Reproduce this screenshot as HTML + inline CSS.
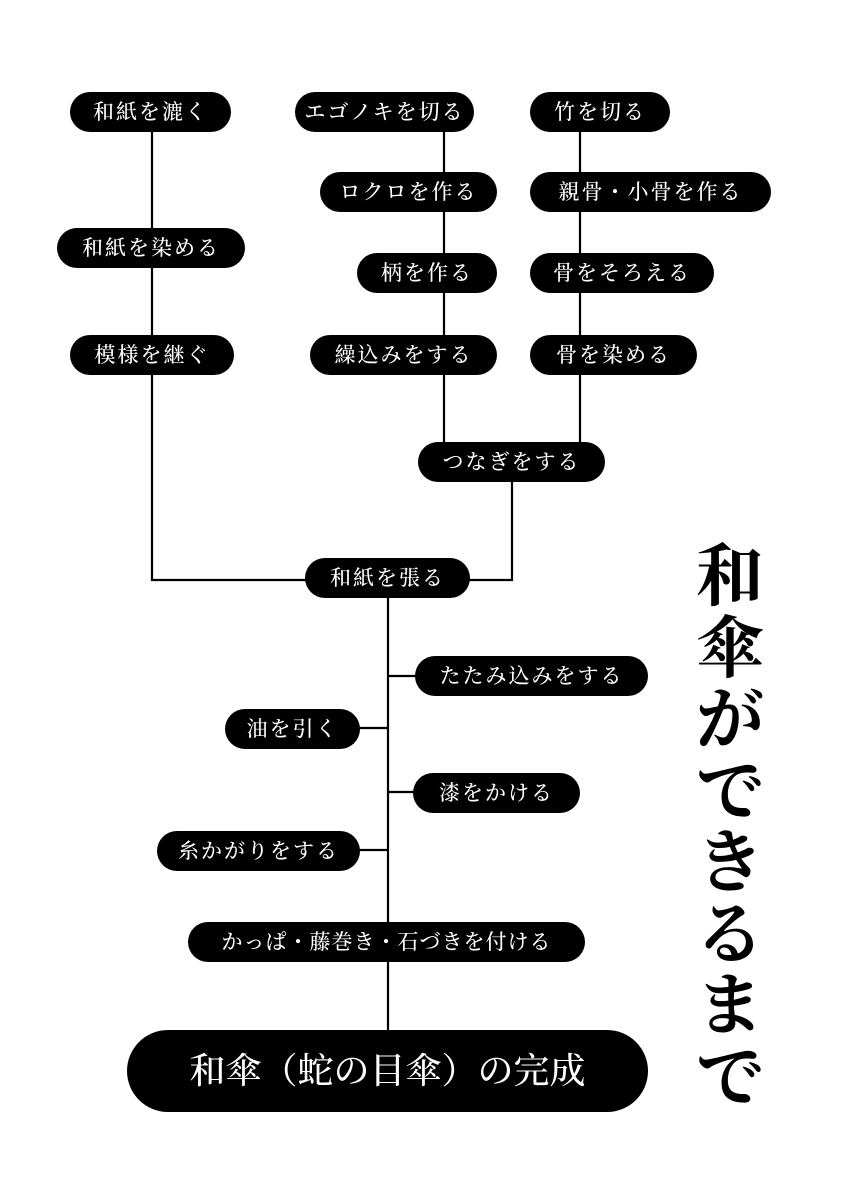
<!DOCTYPE html>
<html><head><meta charset="utf-8"><style>
body{margin:0;width:842px;height:1191px;background:#fff;position:relative;overflow:hidden;font-family:"Liberation Serif","Noto Serif CJK SC",serif}
.n{position:absolute;background:#000;color:#fff;border-radius:20px;height:40px;line-height:40px;text-align:center;font-size:21px;letter-spacing:2px;white-space:nowrap;font-weight:500}
svg{position:absolute;left:0;top:0}
.t{position:absolute;left:690px;top:542px;width:80px;font-size:68px;line-height:71.5px;text-align:center;color:#000;font-weight:bold}
</style></head><body>
<svg width="842" height="1191"><g stroke="#000" stroke-width="2.2" fill="none">
<polyline points="152,112 152,580 320,580"/>
<line x1="444" y1="112" x2="444" y2="462"/>
<line x1="580" y1="112" x2="580" y2="462"/>
<polyline points="512,462 512,580 460,580"/>
<line x1="388" y1="580" x2="388" y2="1060"/>
<line x1="388" y1="676" x2="420" y2="676"/>
<line x1="355" y1="728" x2="388" y2="728"/>
<line x1="388" y1="792" x2="420" y2="792"/>
<line x1="355" y1="850" x2="388" y2="850"/>
</g></svg>
<div class="n" style="left:70px;top:92px;width:161px">和紙を漉く</div>
<div class="n" style="left:295px;top:92px;width:179px">エゴノキを切る</div>
<div class="n" style="left:530px;top:92px;width:140px">竹を切る</div>
<div class="n" style="left:320px;top:172px;width:177px">ロクロを作る</div>
<div class="n" style="left:530px;top:172px;width:241px">親骨・小骨を作る</div>
<div class="n" style="left:57px;top:228px;width:188px">和紙を染める</div>
<div class="n" style="left:357px;top:253px;width:140px">柄を作る</div>
<div class="n" style="left:530px;top:253px;width:184px">骨をそろえる</div>
<div class="n" style="left:70px;top:335px;width:164px">模様を継ぐ</div>
<div class="n" style="left:310px;top:335px;width:187px">繰込みをする</div>
<div class="n" style="left:530px;top:335px;width:167px">骨を染める</div>
<div class="n" style="left:418px;top:442px;width:187px">つなぎをする</div>
<div class="n" style="left:305px;top:558px;width:165px">和紙を張る</div>
<div class="n" style="left:415px;top:656px;width:233px">たたみ込みをする</div>
<div class="n" style="left:225px;top:709px;width:135px">油を引く</div>
<div class="n" style="left:413px;top:773px;width:167px">漆をかける</div>
<div class="n" style="left:157px;top:831px;width:203px">糸かがりをする</div>
<div class="n" style="left:188px;top:922px;width:397px;letter-spacing:1px">かっぱ・藤巻き・石づきを付ける</div>
<div class="n" style="left:127px;top:1030px;width:521px;height:82px;line-height:82px;border-radius:41px;font-size:36px;letter-spacing:0">和傘（蛇の目傘）の完成</div>
<div class="t">和<br>傘<br>が<br>で<br>き<br>る<br>ま<br>で</div>
</body></html>
